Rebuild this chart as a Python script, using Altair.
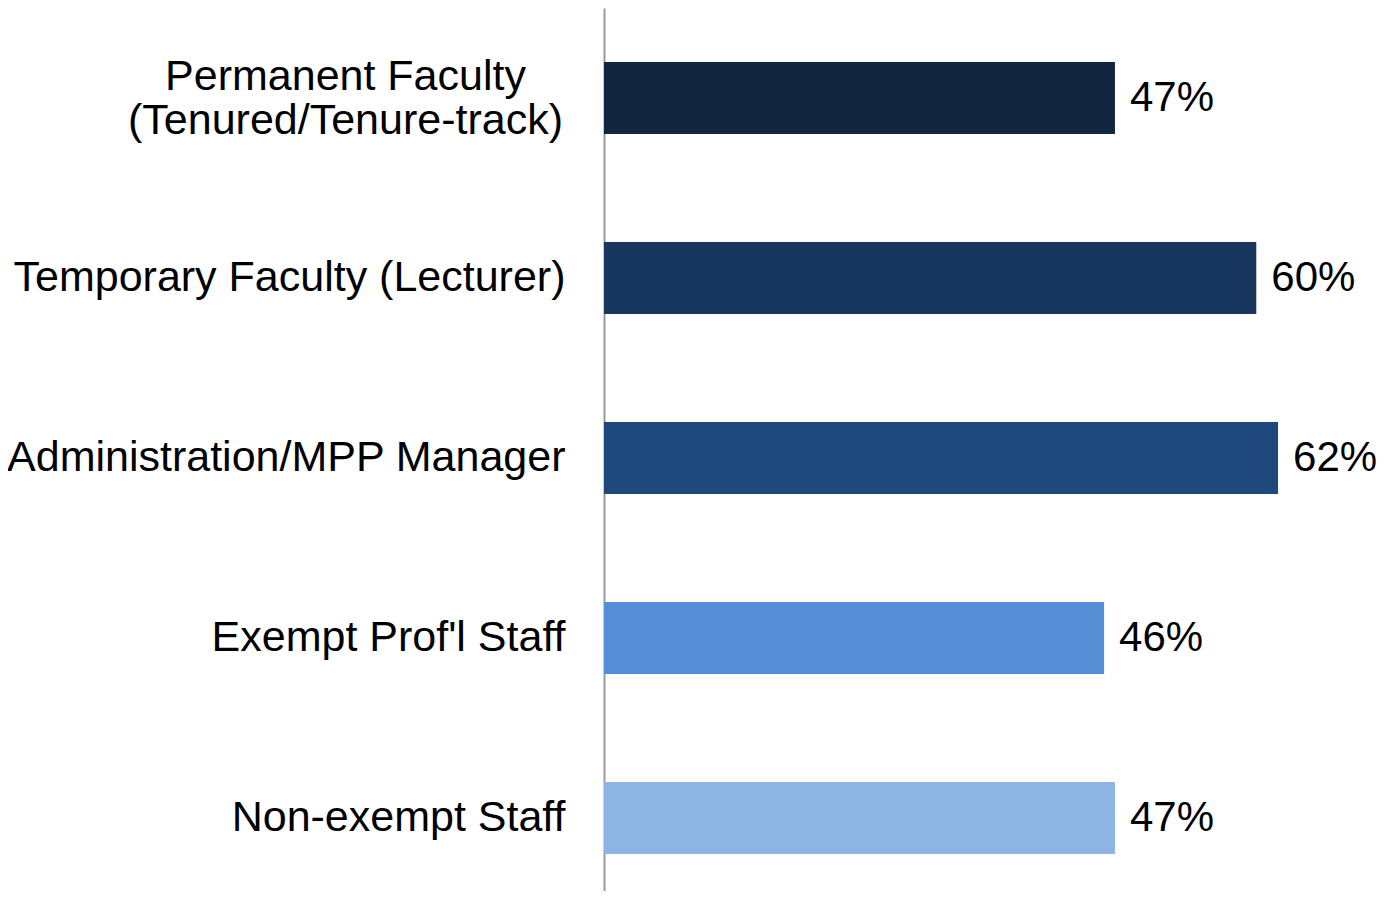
import altair as alt
import pandas as pd

categories = [
    "Permanent Faculty\n(Tenured/Tenure-track)",
    "Temporary Faculty (Lecturer)",
    "Administration/MPP Manager",
    "Exempt Prof'l Staff",
    "Non-exempt Staff",
]
values = [0.47, 0.60, 0.62, 0.46, 0.47]
colors = ["#13263F", "#17375E", "#1F497D", "#558ED5", "#8EB4E3"]

df = pd.DataFrame({"category": categories, "value": values})

FONT = "Liberation Sans"
MULTI = "indexof(datum.value, '\\n') >= 0"

y_enc = alt.Y(
    "category:N",
    sort=categories,
    scale=alt.Scale(range=[0, 900], paddingInner=0.6, paddingOuter=0.3),
    axis=alt.Axis(
        title=None,
        ticks=False,
        labelPadding={"condition": {"test": MULTI, "value": 259}, "value": 39},
        labelAlign={"condition": {"test": MULTI, "value": "center"}, "value": "right"},
        labelOffset={"condition": {"test": MULTI, "value": -21}, "value": 0},
        labelFont=FONT,
        labelFontSize=43,
        labelColor="#000000",
        labelLineHeight=44,
        labelLimit=700,
        labelExpr="split(datum.label, '\\n')",
        domainColor="#9a9a9a",
        domainWidth=2,
    ),
)

x_enc = alt.X("value:Q", scale=alt.Scale(domain=[0, 0.7], nice=False), axis=None)

bars = alt.Chart(df).mark_bar().encode(
    y=y_enc,
    x=x_enc,
    color=alt.Color(
        "category:N",
        scale=alt.Scale(domain=categories, range=colors),
        legend=None,
    ),
)

text = alt.Chart(df).mark_text(
    align="left", baseline="middle", dx=15, font=FONT, fontSize=42, color="#000000"
).encode(
    y=alt.Y("category:N", sort=categories),
    x=alt.X("value:Q"),
    text=alt.Text("value:Q", format=".0%"),
)

chart = (
    alt.layer(bars, text)
    .properties(
        width=761,
        height=883,
        background="#ffffff",
        autosize=alt.AutoSizeParams(type="none"),
        padding={"left": 596, "top": 0, "right": 12, "bottom": 0},
    )
    .configure_view(stroke=None)
)

chart.save("out.html", embed_options={"renderer": "svg", "actions": False})
